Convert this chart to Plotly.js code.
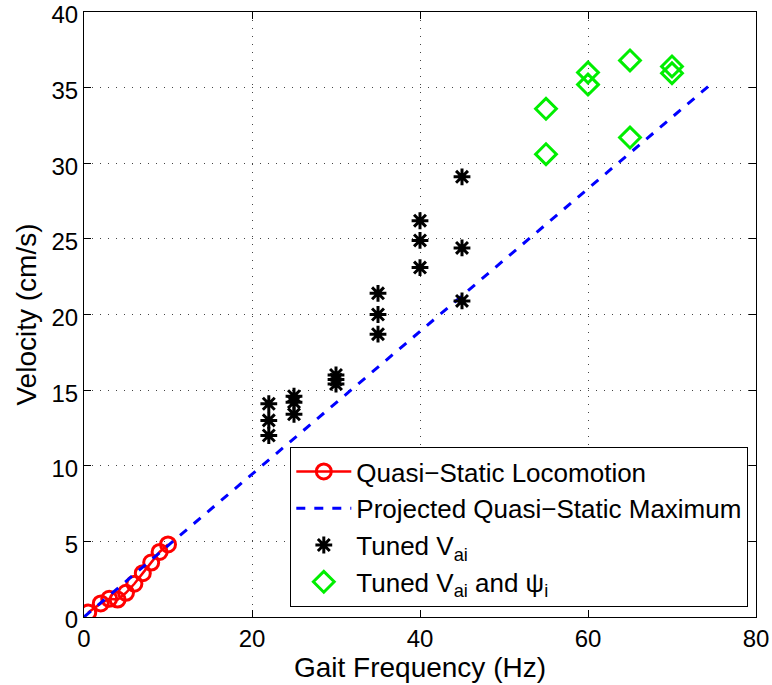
<!DOCTYPE html>
<html><head><meta charset="utf-8">
<script src="https://cdn.plot.ly/plotly-3.0.1.min.js"></script>
<style>html,body{margin:0;padding:0;background:#fff}</style>
</head><body><div id="chart" style="width:772px;height:685px"></div>
<script>
const qsX = [0.5, 2, 3, 4, 5, 6, 7, 8, 9, 10];
const qsY = [0.3, 0.9, 1.2, 1.15, 1.6, 2.2, 2.9, 3.6, 4.3, 4.8];
const projX = [0, 75];
const projY = [0, 35.4];
const vaiX = [22, 22, 22, 25, 25, 25, 30, 30, 30, 35, 35, 35, 40, 40, 40, 45, 45, 45];
const vaiY = [14.1, 13.0, 12.0, 14.6, 14.2, 13.4, 16.0, 15.7, 15.4, 21.4, 20.0, 18.7, 26.2, 24.9, 23.1, 29.1, 24.4, 20.9];
const psiX = [55, 55, 60, 60, 65, 65, 70, 70];
const psiY = [33.6, 30.6, 36.0, 35.2, 36.8, 31.7, 36.4, 35.95];
const xTicks = [0, 20, 40, 60, 80];
const yTicks = [0, 5, 10, 15, 20, 25, 30, 35, 40];

const font = {family: 'Liberation Sans, Arial, sans-serif', color: '#000'};
const traces = [
  {x: qsX, y: qsY, mode: 'lines+markers', name: 'Quasi\u2212Static Locomotion',
   line: {color: '#ff0000', width: 2.5},
   marker: {symbol: 'circle-open', size: 15, color: '#ff0000', line: {width: 3, color: '#ff0000'}}},
  {x: projX, y: projY, mode: 'lines', name: 'Projected Quasi\u2212Static Maximum',
   line: {color: '#0000ff', width: 3, dash: 'dash'}},
  {x: vaiX, y: vaiY, mode: 'markers', name: 'Tuned V<sub>ai</sub>',
   marker: {symbol: 'asterisk-open', size: 14, color: '#000', line: {width: 3, color: '#000'}}},
  {x: psiX, y: psiY, mode: 'markers', name: 'Tuned V<sub>ai</sub> and \u03c8<sub>i</sub>',
   marker: {symbol: 'diamond-open', size: 16, color: '#00ee00', line: {width: 3, color: '#00ee00'}}}
];
const axisCommon = {
  showline: true, linecolor: '#000', linewidth: 1, mirror: 'ticks',
  ticks: 'inside', ticklen: 7, tickcolor: '#000',
  showgrid: true, gridcolor: '#444', griddash: '1px,7px', gridwidth: 1,
  zeroline: false, automargin: false, ticklabeloverflow: 'allow',
  tickfont: Object.assign({size: 24}, font)
};
const layout = {
  width: 772, height: 685,
  margin: {l: 84, r: 16, t: 12, b: 68, autoexpand: false},
  paper_bgcolor: '#fff', plot_bgcolor: '#fff',
  font: font,
  showlegend: true,
  xaxis: Object.assign({}, axisCommon, {range: [0, 80], tickvals: xTicks, ticktext: xTicks.map(String),
    title: {text: 'Gait Frequency (Hz)', font: Object.assign({size: 28}, font), standoff: 0}}),
  yaxis: Object.assign({}, axisCommon, {range: [0, 40], tickvals: yTicks, ticktext: yTicks.map(String),
    ticklabelshift: 3,
    title: {text: 'Velocity (cm/s)', font: Object.assign({size: 28}, font), standoff: 6}}),
  legend: {x: 0.307, y: 0.281, xanchor: 'left', yanchor: 'top',
    bgcolor: '#fff', bordercolor: '#000', borderwidth: 1,
    font: Object.assign({size: 26}, font), tracegroupgap: 0, itemwidth: 55}
};
Plotly.newPlot('chart', traces, layout, {staticPlot: true});
</script></body></html>
